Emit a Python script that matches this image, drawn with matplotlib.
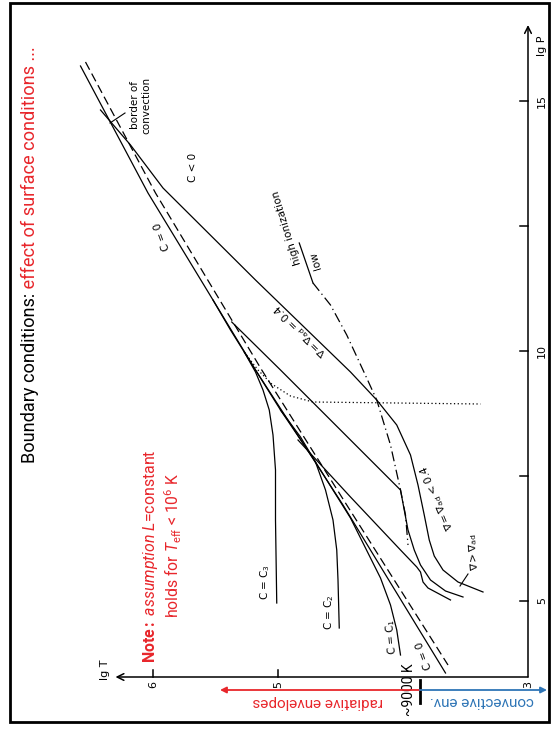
import matplotlib.pyplot as plt
from matplotlib.patches import Rectangle

# Kippenhahn-style sketch of envelope solutions in the lg P - lg T plane.
# The slide shows it turned by 90 degrees: lg T runs to the left, lg P upwards.

# border of convection (dashed) and the radiative solution C = 0
border_T = [6.54, 5.98, 5.13, 4.45, 3.64]
border_P = [15.78, 13.16, 9.62, 6.92, 3.72]
c0_T = [6.58, 6.04, 5.18, 4.48, 3.66]
c0_P = [15.70, 13.16, 9.62, 6.92, 3.56]

# radiative solutions C = C1, C2, C3
c1_T = [4.98, 4.71, 4.56, 4.42, 4.30, 4.18, 4.10, 4.05, 4.02]
c1_P = [8.82, 7.82, 7.22, 6.66, 6.06, 5.46, 4.92, 4.42, 3.92]
c2_T = [5.27, 4.98, 4.82, 4.70, 4.62, 4.56, 4.53, 4.52, 4.51]
c2_P = [9.98, 8.82, 8.28, 7.78, 7.22, 6.62, 6.02, 5.42, 4.46]
c3_T = [5.52, 5.38, 5.27, 5.18, 5.12, 5.07, 5.04, 5.02, 5.02, 5.01]
c3_P = [11.02, 10.42, 9.98, 9.58, 9.22, 8.82, 8.32, 7.62, 6.62, 4.96]

# convective solutions (adiabats, then ionisation zone / superadiabatic part)
outer_T = [6.42, 6.18, 5.92, 5.18, 4.42, 4.21, 4.05, 3.94, 3.88, 3.83, 3.79,
           3.75, 3.68, 3.56, 3.36]
outer_P = [14.82, 14.12, 13.26, 11.42, 9.58, 9.02, 8.52, 7.92, 7.32, 6.72, 6.22,
           5.90, 5.62, 5.38, 5.18]
mid_T = [5.37, 4.98, 4.02, 3.99, 3.96, 3.91, 3.86, 3.78, 3.66, 3.52]
mid_P = [10.58, 9.62, 7.22, 6.82, 6.42, 6.02, 5.72, 5.42, 5.20, 5.08]
inner_T = [4.84, 4.42, 4.02, 3.89, 3.86, 3.84, 3.80, 3.62]
inner_P = [8.22, 7.08, 6.02, 5.68, 5.58, 5.38, 5.26, 5.02]

# high / low ionization border (dash-dot) and dotted line
ion_T = [4.72, 4.58, 4.45, 4.32, 4.21, 4.10, 4.02, 3.98, 3.96]
ion_P = [11.36, 10.92, 10.32, 9.62, 9.02, 8.12, 7.22, 6.72, 6.12]
dot_T = [5.27, 5.16, 5.05, 4.90, 4.72, 3.38]
dot_P = [9.98, 9.62, 9.34, 9.10, 8.98, 8.94]

p_ticks = [5, 7.5, 10, 12.5, 15]
p_labels = ['5', '', '10', '', '15']
t_ticks = [6, 5]
t_labels = ['6', '5', '3']
t_label_pos = [6, 5, 3]

T_9000 = 3.865

RED = '#e8262b'
BLUE = '#2e75b6'
slide_font = 'Roboto'

plt.rcParams['mathtext.fontset'] = 'custom'
plt.rcParams['mathtext.rm'] = slide_font
plt.rcParams['mathtext.it'] = slide_font + ':italic'
plt.rcParams['mathtext.bf'] = slide_font + ':bold'

fig = plt.figure(figsize=(5.53, 7.31), dpi=100)
ax = fig.add_axes([0, 0, 1, 1])
ax.set_xlim(7.224, 2.8)
ax.set_ylim(2.4, 17.02)
ax.axis('off')

lw = 0.9
ax.plot(border_T, border_P, color='k', lw=lw, dashes=(7, 3.5))
for T, P in [(c0_T, c0_P), (c1_T, c1_P), (c2_T, c2_P), (c3_T, c3_P),
             (outer_T, outer_P), (mid_T, mid_P), (inner_T, inner_P)]:
    ax.plot(T, P, color='k', lw=lw)
ax.plot(ion_T, ion_P, color='k', lw=lw, dashes=(8, 3, 1, 3))
ax.plot(dot_T, dot_P, color='k', lw=lw, dashes=(1, 2))
ax.plot([4.72, 4.83], [11.36, 12.16], color='k', lw=lw)

# axes of the sketch
arrow = dict(arrowstyle='->', lw=1.1, color='k', shrinkA=0, shrinkB=0, mutation_scale=12)
ax.annotate('', xy=(3.0, 16.52), xytext=(3.0, 3.48), arrowprops=arrow)
ax.annotate('', xy=(6.30, 3.48), xytext=(3.0, 3.48), arrowprops=arrow)
for p, s in zip(p_ticks, p_labels):
    ax.plot([3.0, 3.065], [p, p], color='k', lw=1.1)
    if s:
        ax.text(2.888, p, s, rotation=90, ha='center', va='center', fontsize=8,
                family='DejaVu Sans')
for t in t_ticks:
    ax.plot([t, t], [3.48, 3.62], color='k', lw=1.1)
for t, s in zip(t_label_pos, t_labels):
    ax.text(t, 3.33, s, rotation=90, ha='center', va='center', fontsize=8,
            family='DejaVu Sans')
ax.text(2.888, 16.1, 'lg P', rotation=90, ha='center', va='center', fontsize=8,
        family='DejaVu Sans')
ax.text(6.38, 3.62, 'lg T', rotation=90, ha='center', va='center', fontsize=8,
        family='DejaVu Sans')


def label(T, P, s, rot, size=7.5):
    ax.text(T, P, s, rotation=rot, rotation_mode='anchor', ha='center', va='center',
            fontsize=size, family='DejaVu Sans', math_fontfamily='dejavusans')


label(5.68, 13.68, 'C < 0', 90)
label(6.10, 14.92, 'border of\nconvection', 90)
ax.plot([6.224, 6.344], [14.76, 14.56], color='k', lw=0.8)
label(5.93, 12.30, 'C = 0', 110)
label(4.816, 10.42, r'$\nabla = \nabla_{\rm ad}$ = 0.4', 135)
label(4.93, 12.46, 'high ionization', 107)
label(4.70, 11.82, 'low', 107)
label(3.728, 7.06, r'$\nabla = \nabla_{\rm ad}$ < 0.4', 113)
label(3.432, 5.98, r'$\nabla > \nabla_{\rm ad}$', 95)
ax.plot([3.48, 3.544], [5.54, 5.30], color='k', lw=0.8)
label(5.104, 5.38, r'C = C$_3$', 90)
label(4.592, 4.78, r'C = C$_2$', 90)
label(4.088, 4.28, r'C = C$_1$', 95)
label(3.832, 3.92, 'C = 0', 110)

# slide annotations
ax.plot([T_9000, T_9000], [3.42, 2.96], color='k', lw=2)
ax.text(3.952, 3.22, '~9000 K', rotation=90, ha='center', va='center', fontsize=10,
        family=slide_font)
ax.annotate('', xy=(5.464, 3.22), xytext=(T_9000, 3.22),
            arrowprops=dict(arrowstyle='-|>', color=RED, lw=1.3, shrinkA=0, shrinkB=0,
                            mutation_scale=9))
ax.annotate('', xy=(2.848, 3.22), xytext=(T_9000, 3.22),
            arrowprops=dict(arrowstyle='-|>', color=BLUE, lw=1.3, shrinkA=0, shrinkB=0,
                            mutation_scale=9))
ax.text(4.68, 2.98, 'radiative envelopes', rotation=180, ha='center', va='center',
        fontsize=11, color=RED, family=slide_font)
ax.text(3.368, 3.0, 'convective env.', rotation=180, ha='center', va='center',
        fontsize=11, color=BLUE, family=slide_font)

note1 = ax.text(6.016, 5.90, r'$\mathbf{Note:}$ $\mathit{assumption}$ $\mathit{L}$=constant',
                rotation=90, rotation_mode='anchor', ha='center', va='center',
                fontsize=11, color=RED, family=slide_font)
note2 = ax.text(5.84, 6.12, r'holds for $\mathit{T}_{\mathrm{eff}}$ < 10$^{6}$ K',
                rotation=90, rotation_mode='anchor', ha='center', va='center',
                fontsize=11, color=RED, family=slide_font)

# title
t1 = fig.text(30 / 553, 1 - 463 / 731, 'Boundary conditions:', rotation=90,
              rotation_mode='anchor', ha='left', va='center', fontsize=17,
              family=slide_font)
t2 = ax.annotate(' effect of surface conditions ...', xy=(0.5, 1.0), xycoords=t1,
                 rotation=90, rotation_mode='anchor', ha='left', va='center',
                 fontsize=17, color=RED, family=slide_font)

fig.add_artist(Rectangle((10 / 553, 9 / 731), 539 / 553, 719 / 731,
                         transform=fig.transFigure, fill=False, lw=2, ec='k'))

# scale the slide texts so their lengths match the slide
fig.canvas.draw()
rend = fig.canvas.get_renderer()
for txt, length in [(note1, 213), (note2, 145)]:
    h = txt.get_window_extent(rend).height
    txt.set_fontsize(txt.get_fontsize() * length / h)
title_len = t1.get_window_extent(rend).height + t2.get_window_extent(rend).height
for txt in (t1, t2):
    txt.set_fontsize(17 * 416 / title_len)

fig.savefig('out.png', dpi=100)
